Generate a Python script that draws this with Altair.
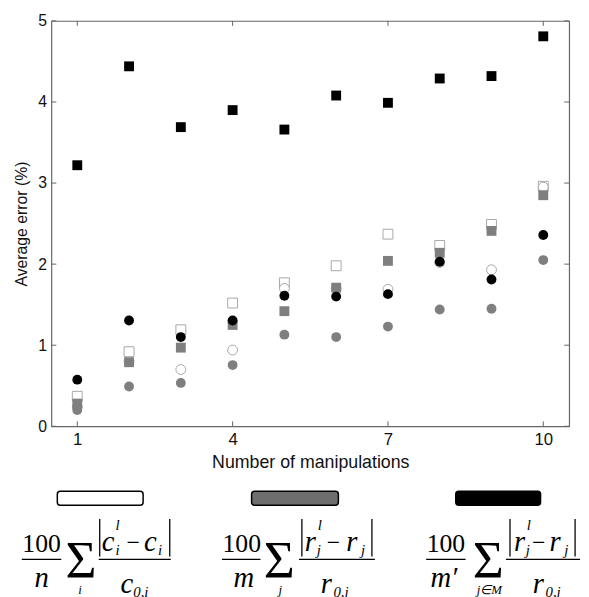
import altair as alt
import pandas as pd

# ---- data ----
x_vals = [1, 2, 3, 4, 5, 6, 7, 8, 9, 10]
black_squares = [3.22, 4.44, 3.69, 3.90, 3.66, 4.08, 3.99, 4.29, 4.32, 4.81]
open_squares = [0.37, 0.92, 1.19, 1.52, 1.77, 1.98, 2.37, 2.23, 2.49, 2.96]
gray_squares = [0.28, 0.79, 0.97, 1.25, 1.42, 1.71, 2.04, 2.14, 2.41, 2.85]
open_circles = [0.24, 0.80, 0.70, 0.94, 1.70, 1.70, 1.69, 2.02, 1.93, 2.95]
gray_circles = [0.20, 0.49, 0.535, 0.755, 1.13, 1.10, 1.23, 1.44, 1.45, 2.05]
black_circles = [0.575, 1.305, 1.10, 1.305, 1.61, 1.60, 1.63, 2.03, 1.81, 2.36]
x_ticks = [1, 4, 7, 10]
y_ticks = [0, 1, 2, 3, 4, 5]

W, H = 525, 411
OX, OY = 52, 17  # page position of the plot origin
FRAME = "#666666"
GRAY = "#7f7f7f"
OPEN_STROKE = "#a8a8a8"
SANS = "Liberation Sans"
SERIF = "Liberation Serif"

xs = alt.Scale(domain=[0.5, 10.5], nice=False, zero=False)
ys = alt.Scale(domain=[0, 5], nice=False)

x_axis = alt.Axis(values=x_ticks, title="Number of manipulations", ticks=False, grid=False,
                  domain=False, labelFont=SANS, labelFontSize=17, labelPadding=5,
                  labelColor="#111", titleFont=SANS, titleFontSize=18,
                  titleFontWeight="normal", titleColor="#111", titlePadding=7)
y_axis = alt.Axis(values=y_ticks, title="Average error (%)", ticks=False, grid=False,
                  domain=False, labelFont=SANS, labelFontSize=16, labelPadding=5,
                  labelColor="#111", titleFont=SANS, titleFontSize=16,
                  titleFontWeight="normal", titleColor="#111", titlePadding=8)


def series(vals, shape, fill, stroke=None):
    df = pd.DataFrame({"x": x_vals, "y": vals})
    kw = dict(shape=shape, size=100, filled=True, fill=fill, opacity=1)
    if stroke:
        kw.update(stroke=stroke, strokeWidth=1)
    else:
        kw.update(strokeWidth=0)
    return alt.Chart(df).mark_point(**kw).encode(
        x=alt.X("x:Q", scale=xs, axis=x_axis),
        y=alt.Y("y:Q", scale=ys, axis=y_axis),
    )


one = alt.Data(values=[{"k": 1}])


def txt(s, px, py, size, style="italic", font=SERIF, align="center"):
    return alt.Chart(one).mark_text(text=s, font=font, fontSize=size, fontStyle=style,
                                    align=align, baseline="alphabetic", color="black").encode(
        x=alt.value(px - OX), y=alt.value(py - OY))


def hline(x1, x2, py, w=1.3):
    return alt.Chart(one).mark_rule(color="black", strokeWidth=w).encode(
        x=alt.value(x1 - OX), x2=alt.value(x2 - OX), y=alt.value(py - OY))


def vline(px, y1, y2, w=1.3):
    return alt.Chart(one).mark_rule(color="black", strokeWidth=w).encode(
        x=alt.value(px - OX), y=alt.value(y1 - OY), y2=alt.value(y2 - OY))


def swatch(x1, x2, fill):
    return alt.Chart(one).mark_rect(fill=fill, stroke="black", strokeWidth=1.5,
                                    cornerRadius=3).encode(
        x=alt.value(x1 - OX), x2=alt.value(x2 - OX), y=alt.value(494 - OY), y2=alt.value(508 - OY))


# inward ticks on all four sides
xt = pd.DataFrame({"v": x_ticks})
yt = pd.DataFrame({"v": y_ticks})
tick_layers = [
    alt.Chart(xt).mark_rule(color=FRAME, strokeWidth=1).encode(
        x=alt.X("v:Q", scale=xs, axis=x_axis), y=alt.value(H), y2=alt.value(H - 5)),
    alt.Chart(xt).mark_rule(color=FRAME, strokeWidth=1).encode(
        x=alt.X("v:Q", scale=xs, axis=x_axis), y=alt.value(0), y2=alt.value(5)),
    alt.Chart(yt).mark_rule(color=FRAME, strokeWidth=1).encode(
        y=alt.Y("v:Q", scale=ys, axis=y_axis), x=alt.value(0), x2=alt.value(5)),
    alt.Chart(yt).mark_rule(color=FRAME, strokeWidth=1).encode(
        y=alt.Y("v:Q", scale=ys, axis=y_axis), x=alt.value(W), x2=alt.value(W - 5)),
]

points = [
    series(open_squares, "square", "white", OPEN_STROKE),
    series(open_circles, "circle", "white", OPEN_STROKE),
    series(gray_circles, "circle", GRAY),
    series(gray_squares, "square", GRAY),
    series(black_circles, "circle", "black"),
    series(black_squares, "square", "black"),
]

SIGMA = "\u03a3"
legend = [
    swatch(58, 145, "white"),
    swatch(255, 343, "#6e6e6e"),
    swatch(462, 548, "black"),
    # formula 1: 100/n sum_i |c_i^l - c_i| / c_{0,i}
    txt("100", 42, 555, 26, style="normal"),
    hline(22, 62, 563),
    txt("n", 42, 591, 29),
    txt(SIGMA, 82, 582, 54, style="normal"),
    txt("i", 81, 598, 13),
    hline(100, 173, 563),
    vline(101, 522, 560), vline(172, 522, 560),
    txt("c", 103, 554, 29, align="left"),
    txt("l", 117, 533, 15, align="left"),
    txt("i", 117, 559, 15, align="left"),
    txt("\u2212", 135, 553, 24, style="normal"),
    txt("c", 146, 554, 29, align="left"),
    txt("i", 160, 559, 15, align="left"),
    txt("c", 122, 597, 29, align="left"),
    txt("0,i", 135, 601, 15, align="left"),
    # formula 2: 100/m sum_j |r_j^l - r_j| / r_{0,j}
    txt("100", 245, 555, 26, style="normal"),
    hline(225, 264, 563),
    txt("m", 247, 591, 29),
    txt(SIGMA, 283, 582, 54, style="normal"),
    txt("j", 284, 598, 13),
    hline(303, 380, 563),
    vline(306, 522, 560), vline(377, 522, 560),
    txt("r", 309, 554, 29, align="left"),
    txt("l", 322, 533, 15, align="left"),
    txt("j", 321, 559, 15, align="left"),
    txt("\u2212", 338, 553, 24, style="normal"),
    txt("r", 351, 554, 29, align="left"),
    txt("j", 366, 559, 15, align="left"),
    txt("r", 325, 597, 29, align="left"),
    txt("0,j", 338, 601, 15, align="left"),
    # formula 3: 100/m' sum_{j in M} |r_j^l - r_j| / r_{0,j}
    txt("100", 452, 555, 26, style="normal"),
    hline(432, 472, 563),
    txt("m\u2032", 450, 591, 29),
    txt(SIGMA, 495, 582, 54, style="normal"),
    txt("j\u2208M", 496, 598, 13),
    hline(513, 588, 563),
    vline(517, 522, 560), vline(583, 522, 560),
    txt("r", 521, 554, 29, align="left"),
    txt("l", 534, 533, 15, align="left"),
    txt("j", 533, 559, 15, align="left"),
    txt("\u2212", 546, 553, 24, style="normal"),
    txt("r", 557, 554, 29, align="left"),
    txt("j", 572, 559, 15, align="left"),
    txt("r", 540, 597, 29, align="left"),
    txt("0,j", 553, 601, 15, align="left"),
]

chart = alt.layer(*tick_layers, *points, *legend).properties(
    width=W, height=H,
    padding={"left": 44, "top": 9, "right": 12, "bottom": 169},
    autosize=alt.AutoSizeParams(type="none"),
    background="white",
).configure_view(stroke=FRAME, strokeWidth=1.2)

chart.save("out.html", embed_options={"renderer": "svg", "actions": False})
